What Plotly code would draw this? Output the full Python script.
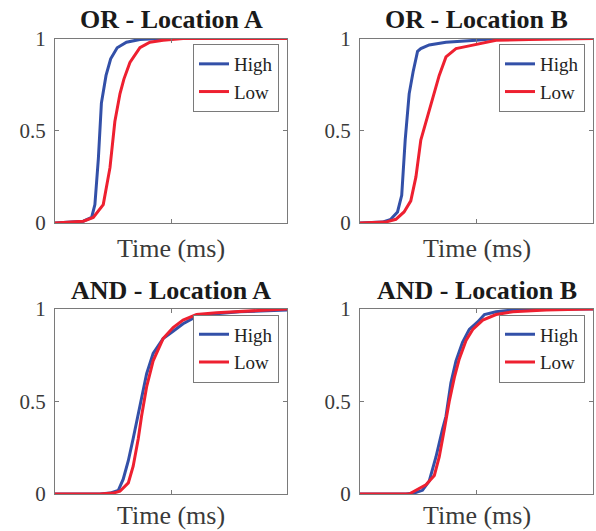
import plotly.graph_objects as go

# ---- data (time in ms, cumulative probability) ----
or_a_high_t = [0, 122, 158, 172, 187, 200, 220, 240, 268, 308, 366, 450, 1000]
or_a_high_p = [0, 0.01, 0.03, 0.10, 0.35, 0.65, 0.80, 0.89, 0.95, 0.98, 0.995, 1.0, 1.0]
or_a_low_t = [0, 122, 165, 208, 237, 258, 280, 297, 323, 366, 409, 466, 552, 1000]
or_a_low_p = [0, 0.01, 0.03, 0.10, 0.30, 0.55, 0.70, 0.78, 0.87, 0.95, 0.98, 0.99, 1.0, 1.0]

or_b_high_t = [0, 96, 132, 161, 179, 194, 211, 228, 247, 261, 297, 369, 498, 584, 1000]
or_b_high_p = [0, 0.005, 0.02, 0.06, 0.15, 0.45, 0.70, 0.82, 0.93, 0.945, 0.965, 0.98, 0.99, 1.0, 1.0]
or_b_low_t = [0, 110, 154, 189, 218, 240, 261, 283, 311, 340, 369, 412, 469, 527, 584, 727, 986, 1000]
or_b_low_p = [0, 0.005, 0.02, 0.06, 0.12, 0.25, 0.45, 0.55, 0.67, 0.80, 0.90, 0.945, 0.96, 0.975, 0.99, 0.995, 1.0, 1.0]

and_a_high_t = [0, 194, 237, 273, 294, 316, 337, 366, 395, 423, 466, 509, 552, 610, 696, 796, 911, 1000]
and_a_high_p = [0, 0, 0.005, 0.02, 0.08, 0.18, 0.30, 0.48, 0.65, 0.76, 0.84, 0.88, 0.92, 0.96, 0.975, 0.985, 0.99, 0.995]
and_a_low_t = [0, 194, 251, 280, 316, 337, 359, 373, 395, 423, 466, 509, 552, 610, 696, 839, 990, 1000]
and_a_low_p = [0, 0, 0.005, 0.015, 0.06, 0.15, 0.30, 0.42, 0.58, 0.72, 0.84, 0.90, 0.94, 0.97, 0.98, 0.99, 1.0, 1.0]

and_b_high_t = [0, 197, 232, 268, 297, 326, 354, 369, 390, 412, 440, 469, 505, 534, 584, 656, 727, 1000]
and_b_high_p = [0, 0, 0.005, 0.02, 0.07, 0.20, 0.35, 0.42, 0.60, 0.72, 0.82, 0.89, 0.93, 0.97, 0.985, 0.995, 1.0, 1.0]
and_b_low_t = [0, 211, 240, 283, 319, 340, 362, 383, 405, 426, 455, 484, 527, 584, 656, 799, 986, 1000]
and_b_low_p = [0, 0, 0.02, 0.05, 0.10, 0.20, 0.35, 0.50, 0.63, 0.73, 0.83, 0.89, 0.94, 0.97, 0.985, 0.995, 1.0, 1.0]

titles = ["OR - Location A", "OR - Location B", "AND - Location A", "AND - Location B"]
series_names = ["High", "Low"]
y_ticks = [0, 0.5, 1]
y_tick_labels = ["0", "0.5", "1"]
x_label = "Time (ms)"

panels = [
    (or_a_high_t, or_a_high_p, or_a_low_t, or_a_low_p),
    (or_b_high_t, or_b_high_p, or_b_low_t, or_b_low_p),
    (and_a_high_t, and_a_high_p, and_a_low_t, and_a_low_p),
    (and_b_high_t, and_b_high_p, and_b_low_t, and_b_low_p),
]

W, H = 596, 531
FONT = "Liberation Serif, Times New Roman, serif"
BLUE = "#3350A8"
RED = "#EE2030"
FRAME = "#7a7a7a"

# panel boxes in pixels (left, right, top, bottom)
boxes = [(55, 287, 38.5, 223), (360, 593, 38.5, 223),
         (55, 287, 309, 494), (360, 593, 309, 494)]


def px(xp):
    return xp / W


def py(yp):
    return 1 - yp / H


fig = go.Figure()
layout = dict(width=W, height=H,
              margin=dict(l=0, r=0, t=0, b=0, pad=0, autoexpand=False),
              paper_bgcolor="white", plot_bgcolor="white", showlegend=True,
              font=dict(family=FONT, color="#333"))
annotations = []

for i, (box, data, title) in enumerate(zip(boxes, panels, titles)):
    l, r, t, b = box
    sfx = "" if i == 0 else str(i + 1)
    xa, ya = "x" + sfx, "y" + sfx
    lg = "legend" + sfx
    ht, hp, lt, lp = data
    fig.add_trace(go.Scatter(x=ht, y=hp, mode="lines", name=series_names[0],
                             line=dict(color=BLUE, width=3), xaxis=xa, yaxis=ya, legend=lg))
    fig.add_trace(go.Scatter(x=lt, y=lp, mode="lines", name=series_names[1],
                             line=dict(color=RED, width=3), xaxis=xa, yaxis=ya, legend=lg))
    common = dict(showline=True, linecolor=FRAME, linewidth=1, mirror="ticks",
                  ticks="inside", ticklen=4, tickcolor=FRAME, showgrid=False,
                  zeroline=False, fixedrange=True)
    layout["xaxis" + sfx] = dict(domain=[px(l), px(r)], range=[0, 1000],
                                 tickvals=[500], showticklabels=False,
                                 anchor=ya, **common)
    layout["yaxis" + sfx] = dict(domain=[py(b), py(t)], range=[0, 1],
                                 tickvals=y_ticks, ticktext=y_tick_labels,
                                 tickfont=dict(family=FONT, size=21, color="#3a3a3a"),
                                 ticklabelstandoff=4,
                                 anchor=xa, **common)
    layout[lg] = dict(x=px(r - 8), y=py(t + 5.5), xanchor="right", yanchor="top",
                      bgcolor="white", bordercolor=FRAME, borderwidth=1,
                      font=dict(family=FONT, size=19, color="#222"),
                      itemwidth=30, tracegroupgap=0)
    cx = px((l + r) / 2)
    annotations.append(dict(text="<b>" + title + "</b>", x=cx, y=py(t - 19),
                            xref="paper", yref="paper", showarrow=False,
                            xanchor="center", yanchor="middle",
                            font=dict(family=FONT, size=26, color="#1a1a1a")))
    if i < 2:
        annotations.append(dict(text=x_label, x=cx, y=py(b + 25),
                                xref="paper", yref="paper", showarrow=False,
                                xanchor="center", yanchor="middle",
                                font=dict(family=FONT, size=26, color="#3a3a3a")))
    else:
        annotations.append(dict(text=x_label, x=cx, y=0,
                                xref="paper", yref="paper", showarrow=False,
                                xanchor="center", yanchor="bottom", borderpad=0,
                                font=dict(family=FONT, size=26, color="#3a3a3a")))

layout["annotations"] = annotations
fig.update_layout(**layout)
fig.write_html("out.html", config={"displayModeBar": False},
               post_script="document.body.style.margin='0';document.body.style.overflow='hidden';")
